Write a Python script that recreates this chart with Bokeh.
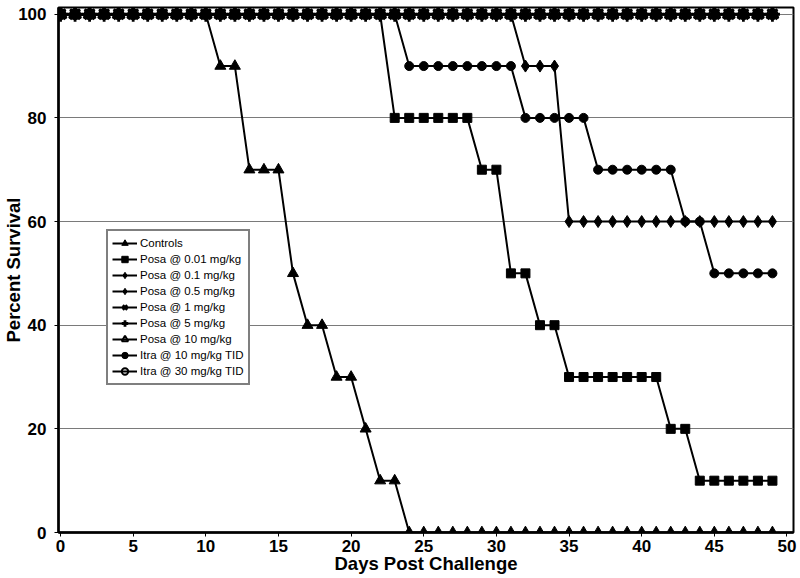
from bokeh.plotting import figure
from bokeh.models import FixedTicker, Legend, LegendItem, Range1d
from bokeh.embed import file_html
from bokeh.resources import INLINE

days = list(range(50))

controls = [100, 100, 100, 100, 100, 100, 100, 100, 100, 100, 100, 90, 90, 70, 70, 70, 50, 40, 40, 30,
            30, 20, 10, 10, 0, 0, 0, 0, 0, 0, 0, 0, 0, 0, 0, 0, 0, 0, 0, 0,
            0, 0, 0, 0, 0, 0, 0, 0, 0, 0]
posa_001 = [100, 100, 100, 100, 100, 100, 100, 100, 100, 100, 100, 100, 100, 100, 100, 100, 100, 100, 100, 100,
            100, 100, 100, 80, 80, 80, 80, 80, 80, 70, 70, 50, 50, 40, 40, 30, 30, 30, 30, 30,
            30, 30, 20, 20, 10, 10, 10, 10, 10, 10]
posa_01 = [100, 100, 100, 100, 100, 100, 100, 100, 100, 100, 100, 100, 100, 100, 100, 100, 100, 100, 100, 100,
           100, 100, 100, 100, 100, 100, 100, 100, 100, 100, 100, 100, 90, 90, 90, 60, 60, 60, 60, 60,
           60, 60, 60, 60, 60, 60, 60, 60, 60, 60]
posa_05 = [100, 100, 100, 100, 100, 100, 100, 100, 100, 100, 100, 100, 100, 100, 100, 100, 100, 100, 100, 100,
           100, 100, 100, 100, 100, 100, 100, 100, 100, 100, 100, 100, 100, 100, 100, 100, 100, 100, 100, 100,
           100, 100, 100, 100, 100, 100, 100, 100, 100, 100]
posa_1 = [100, 100, 100, 100, 100, 100, 100, 100, 100, 100, 100, 100, 100, 100, 100, 100, 100, 100, 100, 100,
          100, 100, 100, 100, 100, 100, 100, 100, 100, 100, 100, 100, 100, 100, 100, 100, 100, 100, 100, 100,
          100, 100, 100, 100, 100, 100, 100, 100, 100, 100]
posa_5 = [100, 100, 100, 100, 100, 100, 100, 100, 100, 100, 100, 100, 100, 100, 100, 100, 100, 100, 100, 100,
          100, 100, 100, 100, 100, 100, 100, 100, 100, 100, 100, 100, 100, 100, 100, 100, 100, 100, 100, 100,
          100, 100, 100, 100, 100, 100, 100, 100, 100, 100]
posa_10 = [100, 100, 100, 100, 100, 100, 100, 100, 100, 100, 100, 100, 100, 100, 100, 100, 100, 100, 100, 100,
           100, 100, 100, 100, 100, 100, 100, 100, 100, 100, 100, 100, 100, 100, 100, 100, 100, 100, 100, 100,
           100, 100, 100, 100, 100, 100, 100, 100, 100, 100]
itra_10 = [100, 100, 100, 100, 100, 100, 100, 100, 100, 100, 100, 100, 100, 100, 100, 100, 100, 100, 100, 100,
           100, 100, 100, 100, 90, 90, 90, 90, 90, 90, 90, 90, 80, 80, 80, 80, 80, 70, 70, 70,
           70, 70, 70, 60, 60, 50, 50, 50, 50, 50]
itra_30 = [100, 100, 100, 100, 100, 100, 100, 100, 100, 100, 100, 100, 100, 100, 100, 100, 100, 100, 100, 100,
           100, 100, 100, 100, 100, 100, 100, 100, 100, 100, 100, 100, 100, 100, 100, 100, 100, 100, 100, 100,
           100, 100, 100, 100, 100, 100, 100, 100, 100, 100]

labels = ["Controls", "Posa @ 0.01 mg/kg", "Posa @ 0.1 mg/kg", "Posa @ 0.5 mg/kg", "Posa @ 1 mg/kg",
          "Posa @ 5 mg/kg", "Posa @ 10 mg/kg", "Itra @ 10 mg/kg TID", "Itra @ 30 mg/kg TID"]
series = [controls, posa_001, posa_01, posa_05, posa_1, posa_5, posa_10, itra_10, itra_30]
x_ticks = [0, 5, 10, 15, 20, 25, 30, 35, 40, 45, 50]
y_ticks = [0, 20, 40, 60, 80, 100]

# marker styles: (marker, size, filled, outline width)
styles = [("triangle", 11, True, 1), ("square", 9, True, 1), ("diamond", 12, True, 1), ("diamond", 11, True, 1),
          ("x", 14, False, 2.8), ("cross", 15, False, 2.8), ("triangle", 12, False, 2), ("circle", 9, True, 1),
          ("circle", 10, False, 2)]

FONT = "Liberation Sans"

p = figure(width=800, height=578, output_backend="svg", toolbar_location=None,
           x_range=Range1d(-0.14, 50.45), y_range=Range1d(0, 101.3),
           min_border_left=57, min_border_right=7, min_border_top=7, min_border_bottom=46)
p.background_fill_color = "white"
p.border_fill_color = "white"
p.outline_line_color = "black"
p.outline_line_width = 2

p.xgrid.visible = False
p.ygrid.ticker = FixedTicker(ticks=y_ticks)
p.ygrid.grid_line_color = "#7a7a7a"
p.ygrid.grid_line_width = 1

p.xaxis.ticker = FixedTicker(ticks=x_ticks)
p.yaxis.ticker = FixedTicker(ticks=y_ticks)
for ax in (p.xaxis, p.yaxis):
    ax.axis_line_width = 2.5
    ax.axis_line_color = "black"
    ax.major_tick_line_color = "black"
    ax.major_tick_line_width = 1
    ax.major_tick_in = 0
    ax.major_tick_out = 4
    ax.minor_tick_line_color = None
    ax.major_label_text_font = FONT
    ax.major_label_text_font_style = "bold"
    ax.major_label_text_font_size = "17px"
    ax.major_label_text_color = "black"
    ax.axis_label_text_font = FONT
    ax.axis_label_text_font_style = "bold"
    ax.axis_label_text_font_size = "18.5px"
    ax.axis_label_text_color = "black"

p.xaxis.axis_label = "Days Post Challenge"
p.xaxis.major_label_standoff = 3
p.xaxis.axis_label_standoff = -2
p.yaxis.axis_label = "Percent Survival"
p.yaxis.major_label_standoff = 8
p.yaxis.axis_label_standoff = -9

items = []
for lab, vals, (mk, sz, filled, lw) in zip(labels, series, styles):
    lr = p.line(days, vals, line_color="black", line_width=2)
    if filled:
        sr = p.scatter(days, vals, marker=mk, size=sz, fill_color="black", line_color="black", line_width=lw)
    else:
        sr = p.scatter(days, vals, marker=mk, size=sz, fill_alpha=0, line_color="black", line_width=lw)
    items.append(LegendItem(label=lab, renderers=[lr, sr]))

legend = Legend(items=items, location=(48, 147))
legend.label_text_font = FONT
legend.label_text_font_size = "11.5px"
legend.label_text_color = "black"
legend.glyph_width = 25
legend.glyph_height = 16
legend.label_height = 16
legend.label_standoff = 3
legend.spacing = 0
legend.padding = 4
legend.margin = 0
legend.border_line_color = "black"
legend.border_line_width = 2
legend.background_fill_color = "white"
legend.background_fill_alpha = 1
p.add_layout(legend)

open("out.html", "w").write(file_html(p, INLINE))
